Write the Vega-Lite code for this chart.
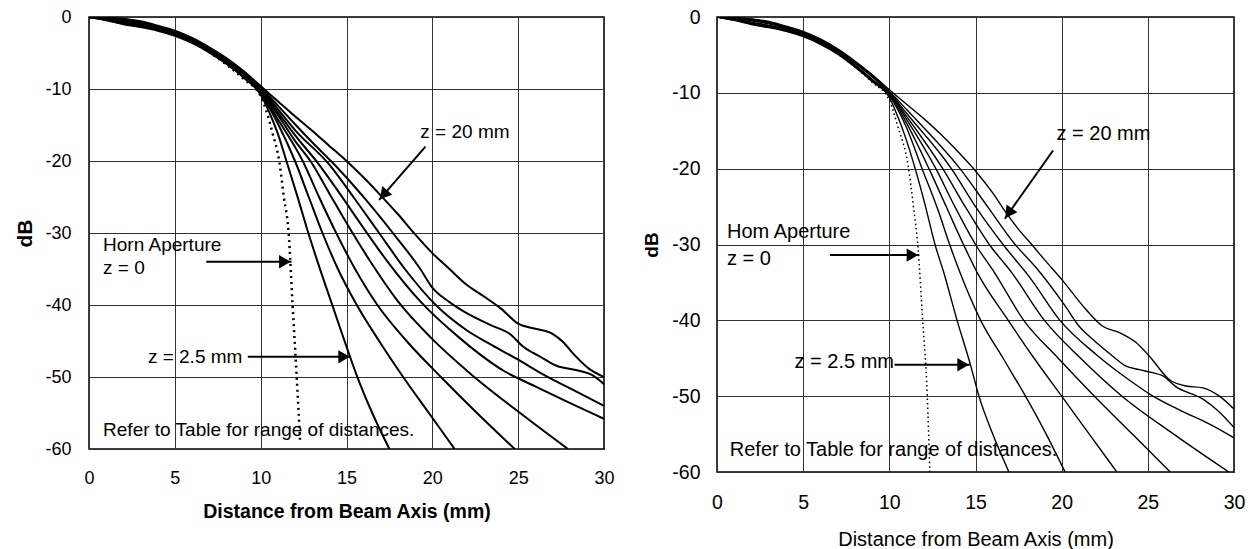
{
  "$schema": "https://vega.github.io/schema/vega-lite/v6.json",
  "background": "white",
  "autosize": {"type": "pad"},
  "padding": {"left": 14, "top": 6, "right": 0, "bottom": 0},
  "bounds": "flush",
  "spacing": 113,
  "config": {
    "font": "Liberation Sans",
    "view": {"stroke": "black", "strokeWidth": 1.5},
    "axis": {"grid": true, "gridColor": "#333", "gridWidth": 1, "gridOpacity": 1, "domain": false, "ticks": false, "labelColor": "black", "titleColor": "black", "labelFlush": false, "labelOverlap": false, "labelFont": "Liberation Sans", "titleFont": "Liberation Sans"}
  },
  "datasets": {
    "curves": [
      {"p":"L","c":"c1","x":0,"y":0},{"p":"L","c":"c1","x":1,"y":-0.45},{"p":"L","c":"c1","x":2,"y":-1.0},{"p":"L","c":"c1","x":3,"y":-1.4},{"p":"L","c":"c1","x":4,"y":-1.9},{"p":"L","c":"c1","x":5,"y":-2.6},{"p":"L","c":"c1","x":6,"y":-3.6},{"p":"L","c":"c1","x":7,"y":-4.9},{"p":"L","c":"c1","x":8,"y":-6.5},{"p":"L","c":"c1","x":9,"y":-8.4},
      {"p":"L","c":"c1","x":10,"y":-10.8},{"p":"L","c":"c1","x":10.5,"y":-13.2},{"p":"L","c":"c1","x":11,"y":-16.2},{"p":"L","c":"c1","x":11.5,"y":-20},{"p":"L","c":"c1","x":12.1,"y":-24.6},{"p":"L","c":"c1","x":12.7,"y":-29.4},{"p":"L","c":"c1","x":13.4,"y":-34.6},{"p":"L","c":"c1","x":14.2,"y":-40.2},{"p":"L","c":"c1","x":15.06,"y":-46.2},{"p":"L","c":"c1","x":15.6,"y":-49.8},{"p":"L","c":"c1","x":16.5,"y":-55},{"p":"L","c":"c1","x":17.5,"y":-60},

      {"p":"L","c":"c2","x":0,"y":0},{"p":"L","c":"c2","x":1,"y":-0.4},{"p":"L","c":"c2","x":2,"y":-0.9},{"p":"L","c":"c2","x":3,"y":-1.3},{"p":"L","c":"c2","x":4,"y":-1.8},{"p":"L","c":"c2","x":5,"y":-2.5},{"p":"L","c":"c2","x":6,"y":-3.5},{"p":"L","c":"c2","x":7,"y":-4.8},{"p":"L","c":"c2","x":8,"y":-6.4},{"p":"L","c":"c2","x":9,"y":-8.3},
      {"p":"L","c":"c2","x":10,"y":-10.6},{"p":"L","c":"c2","x":11,"y":-14.8},{"p":"L","c":"c2","x":12,"y":-20},{"p":"L","c":"c2","x":12.8,"y":-25},{"p":"L","c":"c2","x":13.6,"y":-30},{"p":"L","c":"c2","x":14.5,"y":-35},{"p":"L","c":"c2","x":15.6,"y":-40},{"p":"L","c":"c2","x":16.9,"y":-45},{"p":"L","c":"c2","x":18.3,"y":-50},{"p":"L","c":"c2","x":19.8,"y":-55},{"p":"L","c":"c2","x":21.3,"y":-60},

      {"p":"L","c":"c3","x":0,"y":0},{"p":"L","c":"c3","x":1,"y":-0.35},{"p":"L","c":"c3","x":2,"y":-0.8},{"p":"L","c":"c3","x":3,"y":-1.2},{"p":"L","c":"c3","x":4,"y":-1.7},{"p":"L","c":"c3","x":5,"y":-2.4},{"p":"L","c":"c3","x":6,"y":-3.4},{"p":"L","c":"c3","x":7,"y":-4.7},{"p":"L","c":"c3","x":8,"y":-6.3},{"p":"L","c":"c3","x":9,"y":-8.2},
      {"p":"L","c":"c3","x":10,"y":-10.4},{"p":"L","c":"c3","x":11,"y":-14.2},{"p":"L","c":"c3","x":12.45,"y":-20},{"p":"L","c":"c3","x":13.4,"y":-25},{"p":"L","c":"c3","x":14.4,"y":-30},{"p":"L","c":"c3","x":15.5,"y":-35},{"p":"L","c":"c3","x":16.8,"y":-40},{"p":"L","c":"c3","x":18.5,"y":-45},{"p":"L","c":"c3","x":20.5,"y":-50},{"p":"L","c":"c3","x":22.6,"y":-55},{"p":"L","c":"c3","x":24.8,"y":-60},

      {"p":"L","c":"c4","x":0,"y":0},{"p":"L","c":"c4","x":1,"y":-0.3},{"p":"L","c":"c4","x":2,"y":-0.7},{"p":"L","c":"c4","x":3,"y":-1.1},{"p":"L","c":"c4","x":4,"y":-1.6},{"p":"L","c":"c4","x":5,"y":-2.3},{"p":"L","c":"c4","x":6,"y":-3.3},{"p":"L","c":"c4","x":7,"y":-4.6},{"p":"L","c":"c4","x":8,"y":-6.2},{"p":"L","c":"c4","x":9,"y":-8.1},
      {"p":"L","c":"c4","x":10,"y":-10.2},{"p":"L","c":"c4","x":11,"y":-13.6},{"p":"L","c":"c4","x":12,"y":-17.2},{"p":"L","c":"c4","x":12.9,"y":-20},{"p":"L","c":"c4","x":14,"y":-24.5},{"p":"L","c":"c4","x":15.1,"y":-29},{"p":"L","c":"c4","x":16.4,"y":-34},{"p":"L","c":"c4","x":18,"y":-39.5},{"p":"L","c":"c4","x":19.9,"y":-44.5},{"p":"L","c":"c4","x":22.2,"y":-49.5},{"p":"L","c":"c4","x":25,"y":-54.8},{"p":"L","c":"c4","x":27.9,"y":-60},

      {"p":"L","c":"c5","x":0,"y":0},{"p":"L","c":"c5","x":1,"y":-0.2},{"p":"L","c":"c5","x":2,"y":-0.5},{"p":"L","c":"c5","x":3,"y":-0.9},{"p":"L","c":"c5","x":4,"y":-1.5},{"p":"L","c":"c5","x":5,"y":-2.2},{"p":"L","c":"c5","x":6,"y":-3.2},{"p":"L","c":"c5","x":7,"y":-4.5},{"p":"L","c":"c5","x":8,"y":-6.0},{"p":"L","c":"c5","x":9,"y":-7.8},
      {"p":"L","c":"c5","x":10,"y":-10},{"p":"L","c":"c5","x":11,"y":-13.2},{"p":"L","c":"c5","x":12,"y":-16.4},{"p":"L","c":"c5","x":13.4,"y":-20.5},{"p":"L","c":"c5","x":14.6,"y":-24.5},{"p":"L","c":"c5","x":15.9,"y":-29},{"p":"L","c":"c5","x":17.4,"y":-34},{"p":"L","c":"c5","x":19.3,"y":-39.5},{"p":"L","c":"c5","x":21.6,"y":-44.6},{"p":"L","c":"c5","x":24.2,"y":-49.2},{"p":"L","c":"c5","x":26,"y":-51.3},{"p":"L","c":"c5","x":28,"y":-53.6},{"p":"L","c":"c5","x":30,"y":-55.8},

      {"p":"L","c":"c6","x":0,"y":0},{"p":"L","c":"c6","x":1,"y":-0.15},{"p":"L","c":"c6","x":2,"y":-0.4},{"p":"L","c":"c6","x":3,"y":-0.8},{"p":"L","c":"c6","x":4,"y":-1.4},{"p":"L","c":"c6","x":5,"y":-2.1},{"p":"L","c":"c6","x":6,"y":-3.1},{"p":"L","c":"c6","x":7,"y":-4.4},{"p":"L","c":"c6","x":8,"y":-5.9},{"p":"L","c":"c6","x":9,"y":-7.7},
      {"p":"L","c":"c6","x":10,"y":-9.9},{"p":"L","c":"c6","x":11,"y":-12.8},{"p":"L","c":"c6","x":12,"y":-15.7},{"p":"L","c":"c6","x":14,"y":-20.5},{"p":"L","c":"c6","x":15.4,"y":-25},{"p":"L","c":"c6","x":16.9,"y":-30},{"p":"L","c":"c6","x":18.4,"y":-35},{"p":"L","c":"c6","x":20.2,"y":-40},{"p":"L","c":"c6","x":22,"y":-43.5},{"p":"L","c":"c6","x":23.5,"y":-45.6},{"p":"L","c":"c6","x":25,"y":-47.6},{"p":"L","c":"c6","x":26.5,"y":-49.7},{"p":"L","c":"c6","x":28.2,"y":-51.8},{"p":"L","c":"c6","x":30,"y":-54},

      {"p":"L","c":"c7","x":0,"y":0},{"p":"L","c":"c7","x":1,"y":-0.1},{"p":"L","c":"c7","x":2,"y":-0.3},{"p":"L","c":"c7","x":3,"y":-0.7},{"p":"L","c":"c7","x":4,"y":-1.3},{"p":"L","c":"c7","x":5,"y":-2.0},{"p":"L","c":"c7","x":6,"y":-3.0},{"p":"L","c":"c7","x":7,"y":-4.3},{"p":"L","c":"c7","x":8,"y":-5.8},{"p":"L","c":"c7","x":9,"y":-7.6},
      {"p":"L","c":"c7","x":10,"y":-9.8},{"p":"L","c":"c7","x":11,"y":-12.3},{"p":"L","c":"c7","x":12,"y":-14.9},{"p":"L","c":"c7","x":13,"y":-17.4},{"p":"L","c":"c7","x":14.5,"y":-21},{"p":"L","c":"c7","x":16.1,"y":-25.3},{"p":"L","c":"c7","x":17.7,"y":-30},{"p":"L","c":"c7","x":19.3,"y":-35},{"p":"L","c":"c7","x":20,"y":-37.6},{"p":"L","c":"c7","x":21,"y":-39.6},{"p":"L","c":"c7","x":21.9,"y":-41},{"p":"L","c":"c7","x":23.4,"y":-42.8},{"p":"L","c":"c7","x":24.5,"y":-44},{"p":"L","c":"c7","x":25.3,"y":-45.8},{"p":"L","c":"c7","x":26.3,"y":-47.2},{"p":"L","c":"c7","x":27.2,"y":-48.4},{"p":"L","c":"c7","x":28.5,"y":-49.1},{"p":"L","c":"c7","x":29.3,"y":-49.7},{"p":"L","c":"c7","x":30,"y":-51},

      {"p":"L","c":"c8","x":0,"y":0},{"p":"L","c":"c8","x":1,"y":-0.1},{"p":"L","c":"c8","x":2,"y":-0.25},{"p":"L","c":"c8","x":3,"y":-0.6},{"p":"L","c":"c8","x":4,"y":-1.2},{"p":"L","c":"c8","x":5,"y":-1.9},{"p":"L","c":"c8","x":6,"y":-2.9},{"p":"L","c":"c8","x":7,"y":-4.2},{"p":"L","c":"c8","x":8,"y":-5.7},{"p":"L","c":"c8","x":9,"y":-7.5},
      {"p":"L","c":"c8","x":10,"y":-9.6},{"p":"L","c":"c8","x":11,"y":-11.7},{"p":"L","c":"c8","x":12,"y":-13.8},{"p":"L","c":"c8","x":13,"y":-15.8},{"p":"L","c":"c8","x":14,"y":-17.9},{"p":"L","c":"c8","x":15,"y":-20},{"p":"L","c":"c8","x":16,"y":-22.3},{"p":"L","c":"c8","x":17,"y":-24.8},{"p":"L","c":"c8","x":18,"y":-27.4},{"p":"L","c":"c8","x":19,"y":-30.2},{"p":"L","c":"c8","x":20,"y":-32.8},{"p":"L","c":"c8","x":21,"y":-35},{"p":"L","c":"c8","x":22,"y":-37.2},{"p":"L","c":"c8","x":23,"y":-38.8},{"p":"L","c":"c8","x":24,"y":-40.5},{"p":"L","c":"c8","x":25,"y":-42.6},{"p":"L","c":"c8","x":26,"y":-43.3},{"p":"L","c":"c8","x":27,"y":-44.0},{"p":"L","c":"c8","x":27.6,"y":-45.1},{"p":"L","c":"c8","x":28.3,"y":-47.0},{"p":"L","c":"c8","x":29.1,"y":-48.8},{"p":"L","c":"c8","x":30,"y":-50},

      {"p":"L","c":"z0","x":0,"y":0},{"p":"L","c":"z0","x":1,"y":-0.3},{"p":"L","c":"z0","x":2,"y":-0.7},{"p":"L","c":"z0","x":3,"y":-1.1},{"p":"L","c":"z0","x":4,"y":-1.7},{"p":"L","c":"z0","x":5,"y":-2.4},{"p":"L","c":"z0","x":6,"y":-3.5},{"p":"L","c":"z0","x":7,"y":-4.9},{"p":"L","c":"z0","x":8,"y":-6.6},{"p":"L","c":"z0","x":9,"y":-8.6},{"p":"L","c":"z0","x":10,"y":-11},{"p":"L","c":"z0","x":10.3,"y":-12.8},{"p":"L","c":"z0","x":10.7,"y":-16.2},{"p":"L","c":"z0","x":11.08,"y":-20},{"p":"L","c":"z0","x":11.35,"y":-25},{"p":"L","c":"z0","x":11.63,"y":-30},{"p":"L","c":"z0","x":11.86,"y":-40},{"p":"L","c":"z0","x":12.1,"y":-50},{"p":"L","c":"z0","x":12.3,"y":-59},

      {"p":"R","c":"c1","x":0,"y":0},{"p":"R","c":"c1","x":1,"y":-0.45},{"p":"R","c":"c1","x":2,"y":-1.0},{"p":"R","c":"c1","x":3,"y":-1.4},{"p":"R","c":"c1","x":4,"y":-1.9},{"p":"R","c":"c1","x":5,"y":-2.6},{"p":"R","c":"c1","x":6,"y":-3.6},{"p":"R","c":"c1","x":7,"y":-4.9},{"p":"R","c":"c1","x":8,"y":-6.6},{"p":"R","c":"c1","x":9,"y":-8.5},
      {"p":"R","c":"c1","x":10,"y":-10.6},{"p":"R","c":"c1","x":10.5,"y":-13.2},{"p":"R","c":"c1","x":11,"y":-16.3},{"p":"R","c":"c1","x":11.5,"y":-20},{"p":"R","c":"c1","x":12.1,"y":-25},{"p":"R","c":"c1","x":12.65,"y":-30},{"p":"R","c":"c1","x":13.16,"y":-33.7},{"p":"R","c":"c1","x":13.93,"y":-40},{"p":"R","c":"c1","x":14.7,"y":-45.8},{"p":"R","c":"c1","x":15.2,"y":-50},{"p":"R","c":"c1","x":16,"y":-55},{"p":"R","c":"c1","x":16.94,"y":-60},

      {"p":"R","c":"c2","x":0,"y":0},{"p":"R","c":"c2","x":1,"y":-0.4},{"p":"R","c":"c2","x":2,"y":-0.9},{"p":"R","c":"c2","x":3,"y":-1.3},{"p":"R","c":"c2","x":4,"y":-1.8},{"p":"R","c":"c2","x":5,"y":-2.5},{"p":"R","c":"c2","x":6,"y":-3.5},{"p":"R","c":"c2","x":7,"y":-4.8},{"p":"R","c":"c2","x":8,"y":-6.5},{"p":"R","c":"c2","x":9,"y":-8.4},
      {"p":"R","c":"c2","x":10,"y":-10.4},{"p":"R","c":"c2","x":11,"y":-14.6},{"p":"R","c":"c2","x":11.9,"y":-20},{"p":"R","c":"c2","x":12.8,"y":-25.3},{"p":"R","c":"c2","x":13.5,"y":-30},{"p":"R","c":"c2","x":14.1,"y":-33.7},{"p":"R","c":"c2","x":15.3,"y":-40},{"p":"R","c":"c2","x":16.6,"y":-45},{"p":"R","c":"c2","x":17.9,"y":-50},{"p":"R","c":"c2","x":19.1,"y":-55},{"p":"R","c":"c2","x":20.2,"y":-60},

      {"p":"R","c":"c3","x":0,"y":0},{"p":"R","c":"c3","x":1,"y":-0.35},{"p":"R","c":"c3","x":2,"y":-0.8},{"p":"R","c":"c3","x":3,"y":-1.2},{"p":"R","c":"c3","x":4,"y":-1.7},{"p":"R","c":"c3","x":5,"y":-2.4},{"p":"R","c":"c3","x":6,"y":-3.4},{"p":"R","c":"c3","x":7,"y":-4.7},{"p":"R","c":"c3","x":8,"y":-6.4},{"p":"R","c":"c3","x":9,"y":-8.3},
      {"p":"R","c":"c3","x":10,"y":-10.2},{"p":"R","c":"c3","x":11,"y":-14},{"p":"R","c":"c3","x":12.3,"y":-20},{"p":"R","c":"c3","x":13.3,"y":-25},{"p":"R","c":"c3","x":14.3,"y":-30},{"p":"R","c":"c3","x":15.1,"y":-33.7},{"p":"R","c":"c3","x":16.9,"y":-40},{"p":"R","c":"c3","x":18.4,"y":-45},{"p":"R","c":"c3","x":20,"y":-50},{"p":"R","c":"c3","x":21.6,"y":-55},{"p":"R","c":"c3","x":23.2,"y":-60},

      {"p":"R","c":"c4","x":0,"y":0},{"p":"R","c":"c4","x":1,"y":-0.3},{"p":"R","c":"c4","x":2,"y":-0.7},{"p":"R","c":"c4","x":3,"y":-1.1},{"p":"R","c":"c4","x":4,"y":-1.6},{"p":"R","c":"c4","x":5,"y":-2.3},{"p":"R","c":"c4","x":6,"y":-3.3},{"p":"R","c":"c4","x":7,"y":-4.6},{"p":"R","c":"c4","x":8,"y":-6.3},{"p":"R","c":"c4","x":9,"y":-8.2},
      {"p":"R","c":"c4","x":10,"y":-10.1},{"p":"R","c":"c4","x":11,"y":-13.5},{"p":"R","c":"c4","x":12.7,"y":-20},{"p":"R","c":"c4","x":13.8,"y":-25},{"p":"R","c":"c4","x":15,"y":-30},{"p":"R","c":"c4","x":16.1,"y":-33.7},{"p":"R","c":"c4","x":17.8,"y":-40},{"p":"R","c":"c4","x":19.8,"y":-45},{"p":"R","c":"c4","x":21.9,"y":-50},{"p":"R","c":"c4","x":24.1,"y":-55},{"p":"R","c":"c4","x":26.3,"y":-60},

      {"p":"R","c":"c5","x":0,"y":0},{"p":"R","c":"c5","x":1,"y":-0.2},{"p":"R","c":"c5","x":2,"y":-0.5},{"p":"R","c":"c5","x":3,"y":-0.9},{"p":"R","c":"c5","x":4,"y":-1.5},{"p":"R","c":"c5","x":5,"y":-2.2},{"p":"R","c":"c5","x":6,"y":-3.2},{"p":"R","c":"c5","x":7,"y":-4.5},{"p":"R","c":"c5","x":8,"y":-6.1},{"p":"R","c":"c5","x":9,"y":-7.9},
      {"p":"R","c":"c5","x":10,"y":-10},{"p":"R","c":"c5","x":11,"y":-13.1},{"p":"R","c":"c5","x":13.1,"y":-20},{"p":"R","c":"c5","x":14.4,"y":-25},{"p":"R","c":"c5","x":15.8,"y":-30},{"p":"R","c":"c5","x":17.1,"y":-33.7},{"p":"R","c":"c5","x":19,"y":-40},{"p":"R","c":"c5","x":21.1,"y":-45},{"p":"R","c":"c5","x":23.5,"y":-50},{"p":"R","c":"c5","x":26.5,"y":-55},{"p":"R","c":"c5","x":29.7,"y":-60},

      {"p":"R","c":"c6","x":0,"y":0},{"p":"R","c":"c6","x":1,"y":-0.15},{"p":"R","c":"c6","x":2,"y":-0.4},{"p":"R","c":"c6","x":3,"y":-0.8},{"p":"R","c":"c6","x":4,"y":-1.4},{"p":"R","c":"c6","x":5,"y":-2.1},{"p":"R","c":"c6","x":6,"y":-3.1},{"p":"R","c":"c6","x":7,"y":-4.4},{"p":"R","c":"c6","x":8,"y":-6.0},{"p":"R","c":"c6","x":9,"y":-7.8},
      {"p":"R","c":"c6","x":10,"y":-9.9},{"p":"R","c":"c6","x":11,"y":-12.7},{"p":"R","c":"c6","x":13.6,"y":-20},{"p":"R","c":"c6","x":15,"y":-25},{"p":"R","c":"c6","x":16.6,"y":-30},{"p":"R","c":"c6","x":18.2,"y":-34.5},{"p":"R","c":"c6","x":19.9,"y":-40},{"p":"R","c":"c6","x":22,"y":-44.5},{"p":"R","c":"c6","x":24,"y":-48},{"p":"R","c":"c6","x":25.3,"y":-50},{"p":"R","c":"c6","x":27,"y":-52},{"p":"R","c":"c6","x":28.5,"y":-53.6},{"p":"R","c":"c6","x":30,"y":-55.5},

      {"p":"R","c":"c7","x":0,"y":0},{"p":"R","c":"c7","x":1,"y":-0.1},{"p":"R","c":"c7","x":2,"y":-0.3},{"p":"R","c":"c7","x":3,"y":-0.7},{"p":"R","c":"c7","x":4,"y":-1.3},{"p":"R","c":"c7","x":5,"y":-2.0},{"p":"R","c":"c7","x":6,"y":-3.0},{"p":"R","c":"c7","x":7,"y":-4.3},{"p":"R","c":"c7","x":8,"y":-5.9},{"p":"R","c":"c7","x":9,"y":-7.7},
      {"p":"R","c":"c7","x":10,"y":-9.8},{"p":"R","c":"c7","x":11,"y":-12.2},{"p":"R","c":"c7","x":12,"y":-14.6},{"p":"R","c":"c7","x":14.1,"y":-20},{"p":"R","c":"c7","x":15.7,"y":-25},{"p":"R","c":"c7","x":17.3,"y":-30},{"p":"R","c":"c7","x":18.5,"y":-33},{"p":"R","c":"c7","x":20.2,"y":-38.1},{"p":"R","c":"c7","x":21,"y":-40.75},{"p":"R","c":"c7","x":21.8,"y":-42.5},{"p":"R","c":"c7","x":22.95,"y":-44.7},{"p":"R","c":"c7","x":23.7,"y":-46},{"p":"R","c":"c7","x":24.5,"y":-46.5},{"p":"R","c":"c7","x":25.27,"y":-46.9},{"p":"R","c":"c7","x":25.85,"y":-47.3},{"p":"R","c":"c7","x":26.6,"y":-48.7},{"p":"R","c":"c7","x":28.2,"y":-50.4},{"p":"R","c":"c7","x":29.1,"y":-52},{"p":"R","c":"c7","x":30,"y":-54.15},

      {"p":"R","c":"c8","x":0,"y":0},{"p":"R","c":"c8","x":1,"y":-0.1},{"p":"R","c":"c8","x":2,"y":-0.25},{"p":"R","c":"c8","x":3,"y":-0.6},{"p":"R","c":"c8","x":4,"y":-1.2},{"p":"R","c":"c8","x":5,"y":-1.9},{"p":"R","c":"c8","x":6,"y":-2.9},{"p":"R","c":"c8","x":7,"y":-4.2},{"p":"R","c":"c8","x":8,"y":-5.8},{"p":"R","c":"c8","x":9,"y":-7.6},
      {"p":"R","c":"c8","x":10,"y":-9.6},{"p":"R","c":"c8","x":11,"y":-11.5},{"p":"R","c":"c8","x":12,"y":-13.4},{"p":"R","c":"c8","x":13,"y":-15.5},{"p":"R","c":"c8","x":14,"y":-17.8},{"p":"R","c":"c8","x":15,"y":-20.3},{"p":"R","c":"c8","x":16,"y":-23.2},{"p":"R","c":"c8","x":16.74,"y":-25.7},{"p":"R","c":"c8","x":17.5,"y":-28},{"p":"R","c":"c8","x":18.3,"y":-30.1},{"p":"R","c":"c8","x":19,"y":-32},{"p":"R","c":"c8","x":20,"y":-34.6},{"p":"R","c":"c8","x":21.4,"y":-38.55},{"p":"R","c":"c8","x":22.36,"y":-40.75},{"p":"R","c":"c8","x":23.33,"y":-41.6},{"p":"R","c":"c8","x":24.3,"y":-42.9},{"p":"R","c":"c8","x":25.08,"y":-44.7},{"p":"R","c":"c8","x":26.24,"y":-47.8},{"p":"R","c":"c8","x":27.2,"y":-48.66},{"p":"R","c":"c8","x":28.18,"y":-48.9},{"p":"R","c":"c8","x":29.15,"y":-50},{"p":"R","c":"c8","x":30,"y":-51.7},

      {"p":"R","c":"z0","x":0,"y":0},{"p":"R","c":"z0","x":1,"y":-0.3},{"p":"R","c":"z0","x":2,"y":-0.7},{"p":"R","c":"z0","x":3,"y":-1.1},{"p":"R","c":"z0","x":4,"y":-1.7},{"p":"R","c":"z0","x":5,"y":-2.4},{"p":"R","c":"z0","x":6,"y":-3.5},{"p":"R","c":"z0","x":7,"y":-4.9},{"p":"R","c":"z0","x":8,"y":-6.6},{"p":"R","c":"z0","x":9,"y":-8.6},{"p":"R","c":"z0","x":10,"y":-11},{"p":"R","c":"z0","x":10.5,"y":-14.5},{"p":"R","c":"z0","x":11.09,"y":-19.6},{"p":"R","c":"z0","x":11.4,"y":-25},{"p":"R","c":"z0","x":11.67,"y":-30.6},{"p":"R","c":"z0","x":11.93,"y":-39.8},{"p":"R","c":"z0","x":12.2,"y":-49.9},{"p":"R","c":"z0","x":12.35,"y":-60}
    ],
    "labels": [
      {"p":"L","t":"z = 20 mm","x":19.3,"y":-16.0},
      {"p":"L","t":"Horn Aperture","x":0.82,"y":-31.7},
      {"p":"L","t":"z = 0","x":0.82,"y":-34.9},
      {"p":"L","t":"z = 2.5 mm","x":3.43,"y":-47.2},
      {"p":"L","t":"Refer to Table for range of distances.","x":0.82,"y":-57.3},
      {"p":"R","t":"z = 20 mm","x":19.7,"y":-15.4},
      {"p":"R","t":"Hom Aperture","x":0.58,"y":-28.35},
      {"p":"R","t":"z = 0","x":0.58,"y":-31.9},
      {"p":"R","t":"z = 2.5 mm","x":4.5,"y":-45.5},
      {"p":"R","t":"Refer to Table for range of distances.","x":0.74,"y":-57.1}
    ],
    "arrows": [
      {"p":"L","k":"d","x":19.6,"y":-18.0,"x2":16.9,"y2":-25.4},
      {"p":"L","k":"h","x":6.83,"y":-34.0,"x2":11.8,"y2":-34.0},
      {"p":"L","k":"h","x":9.25,"y":-47.2,"x2":15.25,"y2":-47.2},
      {"p":"R","k":"d","x":19.5,"y":-17.6,"x2":16.7,"y2":-26.6},
      {"p":"R","k":"h","x":6.55,"y":-31.4,"x2":11.73,"y2":-31.4},
      {"p":"R","k":"h","x":10.3,"y":-45.85,"x2":14.67,"y2":-45.85}
    ],
    "heads": [
      {"p":"L","k":"d","x":16.9,"y":-25.4},
      {"p":"L","k":"h","x":11.8,"y":-34.0},
      {"p":"L","k":"h","x":15.25,"y":-47.2},
      {"p":"R","k":"d","x":16.7,"y":-26.6},
      {"p":"R","k":"h","x":11.73,"y":-31.4},
      {"p":"R","k":"h","x":14.67,"y":-45.85}
    ]
  },
  "hconcat": [
    {
      "width": 515,
      "height": 432,
      "encoding": {
        "x": {"field": "x", "type": "quantitative", "scale": {"domain": [0, 30], "nice": false, "zero": false},
              "axis": {"title": "Distance from Beam Axis (mm)", "titleFontSize": 19.5, "titleFontWeight": "bold", "labelFontSize": 18, "labelPadding": 20, "titlePadding": 15, "values": [0,5,10,15,20,25,30], "labelExpr": "'' + datum.value"}},
        "y": {"field": "y", "type": "quantitative", "scale": {"domain": [-60, 0], "nice": false, "zero": false},
              "axis": {"title": "dB", "titleFontSize": 21, "titleFontWeight": "bold", "labelFontSize": 18, "labelPadding": 18, "titlePadding": 9, "values": [0,-10,-20,-30,-40,-50,-60], "labelExpr": "'' + datum.value"}}
      },
      "layer": [
        {"data": {"name": "curves"}, "transform": [{"filter": "datum.p == 'L' && datum.c != 'z0'"}],
         "mark": {"type": "line", "color": "black", "strokeWidth": 2, "interpolate": "monotone", "clip": true},
         "encoding": {"detail": {"field": "c"}}},
        {"data": {"name": "curves"}, "transform": [{"filter": "datum.p == 'L' && datum.c == 'z0'"}],
         "mark": {"type": "line", "color": "black", "strokeWidth": 2.5, "strokeDash": [2, 4], "interpolate": "monotone", "clip": true},
         "encoding": {}},
        {"data": {"name": "arrows"}, "transform": [{"filter": "datum.p == 'L'"}],
         "mark": {"type": "rule", "color": "black", "strokeWidth": 2},
         "encoding": {"x2": {"field": "x2"}, "y2": {"field": "y2"}}},
        {"data": {"name": "heads"}, "transform": [{"filter": "datum.p == 'L' && datum.k == 'h'"}],
         "mark": {"type": "point", "shape": "triangle-right", "filled": true, "color": "black", "opacity": 1, "size": 180, "xOffset": -6.7},
         "encoding": {}},
        {"data": {"name": "heads"}, "transform": [{"filter": "datum.p == 'L' && datum.k == 'd'"}],
         "mark": {"type": "point", "shape": "triangle-down", "filled": true, "color": "black", "opacity": 1, "size": 180, "angle": 41, "xOffset": 4.4, "yOffset": -5.1},
         "encoding": {}},
        {"data": {"name": "labels"}, "transform": [{"filter": "datum.p == 'L'"}],
         "mark": {"type": "text", "align": "left", "baseline": "middle", "fontSize": 19, "font": "Liberation Sans", "color": "black"},
         "encoding": {"text": {"field": "t"}}}
      ]
    },
    {
      "width": 517,
      "height": 455,
      "encoding": {
        "x": {"field": "x", "type": "quantitative", "scale": {"domain": [0, 30], "nice": false, "zero": false},
              "axis": {"title": "Distance from Beam Axis (mm)", "titleFontSize": 20, "titleFontWeight": "normal", "labelFontSize": 19.5, "labelPadding": 21, "titlePadding": 18, "values": [0,5,10,15,20,25,30], "labelExpr": "'' + datum.value"}},
        "y": {"field": "y", "type": "quantitative", "scale": {"domain": [-60, 0], "nice": false, "zero": false},
              "axis": {"title": "dB", "titleFontSize": 19, "titleFontWeight": "bold", "labelFontSize": 19.5, "labelPadding": 17, "titlePadding": 10, "values": [0,-10,-20,-30,-40,-50,-60], "labelExpr": "'' + datum.value"}}
      },
      "layer": [
        {"data": {"name": "curves"}, "transform": [{"filter": "datum.p == 'R' && datum.c != 'z0'"}],
         "mark": {"type": "line", "color": "black", "strokeWidth": 1.4, "interpolate": "monotone", "clip": true},
         "encoding": {"detail": {"field": "c"}}},
        {"data": {"name": "curves"}, "transform": [{"filter": "datum.p == 'R' && datum.c == 'z0'"}],
         "mark": {"type": "line", "color": "black", "strokeWidth": 1.5, "strokeDash": [1.5, 3], "interpolate": "monotone", "clip": true},
         "encoding": {}},
        {"data": {"name": "arrows"}, "transform": [{"filter": "datum.p == 'R'"}],
         "mark": {"type": "rule", "color": "black", "strokeWidth": 2},
         "encoding": {"x2": {"field": "x2"}, "y2": {"field": "y2"}}},
        {"data": {"name": "heads"}, "transform": [{"filter": "datum.p == 'R' && datum.k == 'h'"}],
         "mark": {"type": "point", "shape": "triangle-right", "filled": true, "color": "black", "opacity": 1, "size": 180, "xOffset": -6.7},
         "encoding": {}},
        {"data": {"name": "heads"}, "transform": [{"filter": "datum.p == 'R' && datum.k == 'd'"}],
         "mark": {"type": "point", "shape": "triangle-down", "filled": true, "color": "black", "opacity": 1, "size": 180, "angle": 35, "xOffset": 3.85, "yOffset": -5.5},
         "encoding": {}},
        {"data": {"name": "labels"}, "transform": [{"filter": "datum.p == 'R'"}],
         "mark": {"type": "text", "align": "left", "baseline": "middle", "fontSize": 20, "font": "Liberation Sans", "color": "black"},
         "encoding": {"text": {"field": "t"}}}
      ]
    }
  ]
}
